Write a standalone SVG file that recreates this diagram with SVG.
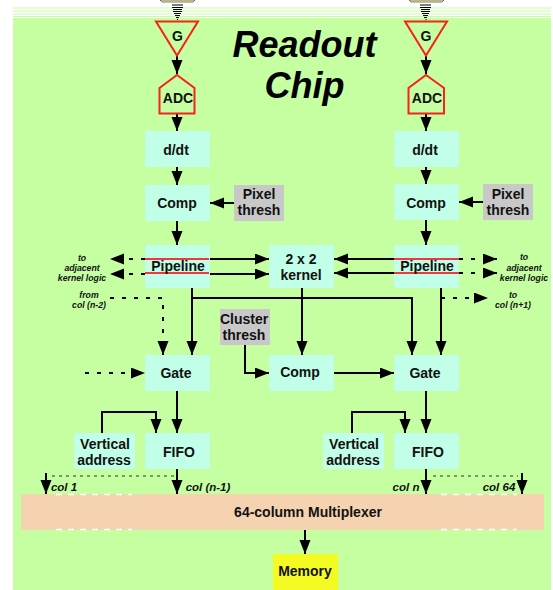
<svg xmlns="http://www.w3.org/2000/svg" width="553" height="590" viewBox="0 0 553 590">
<style>
text{font-family:"Liberation Sans",Arial,sans-serif;font-weight:bold;text-anchor:middle;fill:#111}
.n{font-size:14px}
.s{font-size:8.700px;font-style:italic}
.c{font-size:11.500px;font-style:italic}
.t{font-size:36px;font-style:italic;fill:#000}
.b{fill:#c2ffe8}
.g{fill:#c8c8c8}
.r{fill:none;stroke:#fa2020;stroke-width:2}
.l{fill:none;stroke:#000;stroke-width:2}
.a{marker-end:url(#ah)}
.d{stroke-dasharray:4 8}
.f{stroke-dasharray:3 4;stroke-width:.8}
.w{fill:none;stroke:#fff;stroke-width:1.5;stroke-dasharray:6 6}
.rl{stroke:#f03838;stroke-width:2}
</style>
<defs>
<marker id="ah" markerUnits="userSpaceOnUse" markerWidth="15" markerHeight="12" refX="14" refY="5.500" orient="auto"><path d="M0 0L14 5.500L0 11z" fill="#000"/></marker>
</defs>
<rect x="13" y="18" width="538" height="572" fill="#c6ffa2"/>
<g fill="#c6ffa2"><rect x="13" y="7.500" width="538" height="1"/><rect x="13" y="10.500" width="538" height="1"/><rect x="13" y="13.500" width="538" height="1"/><rect x="13" y="16" width="538" height="1"/></g>
<g fill="#f4f4b0" stroke="#444" stroke-width="0.700"><path d="M160 0L162 2H193L195 0z"/><path d="M409 0L411 2H442L444 0z"/></g>
<text class="t" x="304.500" y="57">Readout</text>
<text class="t" x="304.500" y="98">Chip</text>
<g id="connectors">
<g fill="none" stroke="#000" stroke-width="1">
<path d="M172 5H183M172 7.500H183M173 9.500H182M173 11.500H182M174 13.500H181M175 15.500H180M176 17.500H179M177 19.500H178"/>
<path d="M420 5H431M420 7.500H431M421 9.500H430M421 11.500H430M422 13.500H429M423 15.500H428M424 17.500H427M425.500 19.500H426.500"/>
</g>
<path class="l a" d="M177 56V74"/><path class="l a" d="M177 113V131"/><path class="l a" d="M177 167V185"/><path class="l a" d="M177 221V245"/>
<path class="l a" d="M426 56V74"/><path class="l a" d="M426 113V131"/><path class="l a" d="M426 167V184"/><path class="l a" d="M426 220V245"/>
<path class="l a" d="M234 203H210"/><path class="l a" d="M483 202H459"/>
<path class="l a" d="M209 259H269"/><path class="l a" d="M209 274H269"/>
<path class="l a" d="M394 259H334"/><path class="l a" d="M394 273H334"/>
<path class="l d a" d="M145 259H110"/><path class="l d a" d="M145 274H110"/>
<path class="l d a" d="M459 259H497"/><path class="l d a" d="M459 273H497"/>
<path class="l d a" d="M110 298H163V355"/>
<path class="l d a" d="M441 298H488"/>
<path class="l a" d="M192 288V355"/>
<path class="l a" d="M192 298H412V355"/>
<path class="l a" d="M441 288V355"/>
<path class="l a" d="M302 288V355"/>
<path class="l a" d="M245 345V373H269"/>
<path class="l a" d="M334 373H394"/>
<path class="l d a" d="M85 373H145"/>
<path class="l a" d="M177 391V433"/><path class="l a" d="M426 391V433"/>
<path class="l a" d="M102 433V412H156V433"/>
<path class="l a" d="M352 433V412H405V433"/>
<path class="l a" d="M177 469V494"/><path class="l a" d="M426 469V494"/>
<path class="l a" d="M46 473V494"/><path class="l a" d="M522 473V494"/>
<path class="l f" d="M52 476H175"/><path class="l f" d="M433 476H518"/>
<path class="l a" d="M305 530V554"/>
</g>
<g id="g-left"><path class="r" d="M156 21.500H198L177 55.500z"/><text class="n" x="177.500" y="41">G</text></g>
<g id="g-right"><path class="r" d="M405 21.500H447L426 55.500z"/><text class="n" x="426" y="41">G</text></g>
<g id="adc-left"><path class="r" d="M177 75L194.500 88V113.500H159.500V88z"/><text class="n" x="178" y="103">ADC</text></g>
<g id="adc-right"><path class="r" d="M426 75L444 88V113.500H408.500V88z"/><text class="n" x="427" y="103">ADC</text></g>
<g id="ddt-left"><rect class="b" x="145" y="131" width="65" height="36"/><text class="n" x="176" y="155">d/dt</text></g>
<g id="ddt-right"><rect class="b" x="394" y="131" width="65" height="36"/><text class="n" x="425" y="155">d/dt</text></g>
<g id="comp-left"><rect class="b" x="145" y="185" width="65" height="36"/><text class="n" x="177" y="208">Comp</text></g>
<g id="comp-right"><rect class="b" x="394" y="184" width="65" height="36"/><text class="n" x="426" y="208">Comp</text></g>
<g id="pixel-left"><rect class="g" x="234" y="185" width="50" height="36"/><text class="n" x="259" y="199">Pixel</text><text class="n" x="259" y="215">thresh</text></g>
<g id="pixel-right"><rect class="g" x="483" y="184" width="50" height="36"/><text class="n" x="508" y="199">Pixel</text><text class="n" x="508" y="215">thresh</text></g>
<g id="pipeline-left"><rect class="b" x="145" y="245" width="65" height="43"/><path class="rl" d="M145 259H209M145 273H209"/><text class="n" x="178" y="271">Pipeline</text></g>
<g id="pipeline-right"><rect class="b" x="394" y="245" width="65" height="43"/><path class="rl" d="M394 259H459M394 273H459"/><text class="n" x="427" y="271">Pipeline</text></g>
<g id="kernel"><rect class="b" x="269" y="245" width="65" height="43"/><text class="n" x="301" y="264">2 x 2</text><text class="n" x="301" y="280">kernel</text></g>
<g id="cluster"><rect class="g" x="220" y="309" width="50" height="36"/><text class="n" x="244" y="324">Cluster</text><text class="n" x="244" y="340">thresh</text></g>
<g id="gate-left"><rect class="b" x="145" y="355" width="65" height="36"/><text class="n" x="176" y="378">Gate</text></g>
<g id="comp-center"><rect class="b" x="269" y="355" width="65" height="36"/><text class="n" x="300" y="377">Comp</text></g>
<g id="gate-right"><rect class="b" x="394" y="355" width="65" height="36"/><text class="n" x="425" y="378">Gate</text></g>
<g id="va-left"><rect class="b" x="74" y="433" width="61" height="36"/><text class="n" x="105" y="449">Vertical</text><text class="n" x="104" y="465">address</text></g>
<g id="fifo-left"><rect class="b" x="145" y="433" width="65" height="36"/><text class="n" x="179" y="457">FIFO</text></g>
<g id="va-right"><rect class="b" x="323" y="433" width="61" height="36"/><text class="n" x="354" y="449">Vertical</text><text class="n" x="353" y="465">address</text></g>
<g id="fifo-right"><rect class="b" x="394" y="433" width="65" height="36"/><text class="n" x="428" y="457">FIFO</text></g>
<g id="mux"><rect x="21" y="494" width="523" height="36" fill="#f5d2b0"/><path class="w" d="M56 494.500H132M56 529.500H132M441 494.500H517M441 529.500H517"/><text class="n" x="308" y="517">64-column Multiplexer</text></g>
<g id="memory"><rect x="273" y="554" width="65" height="36" fill="#f4fb22"/><text class="n" x="305" y="576">Memory</text></g>
<g id="labels">
<text class="s" x="82" y="261">to</text><text class="s" x="82" y="271">adjacent</text><text class="s" x="82" y="281">kernel logic</text>
<text class="s" x="524" y="260">to</text><text class="s" x="524" y="271">adjacent</text><text class="s" x="524" y="281">kernel logic</text>
<text class="s" x="89" y="298">from</text><text class="s" x="89" y="308">col (n-2)</text>
<text class="s" x="513" y="298">to</text><text class="s" x="513" y="308">col (n+1)</text>
<text class="c" x="64" y="491">col 1</text><text class="c" x="208" y="491">col (n-1)</text><text class="c" x="406" y="491">col n</text><text class="c" x="499" y="491">col 64</text>
</g>
</svg>
